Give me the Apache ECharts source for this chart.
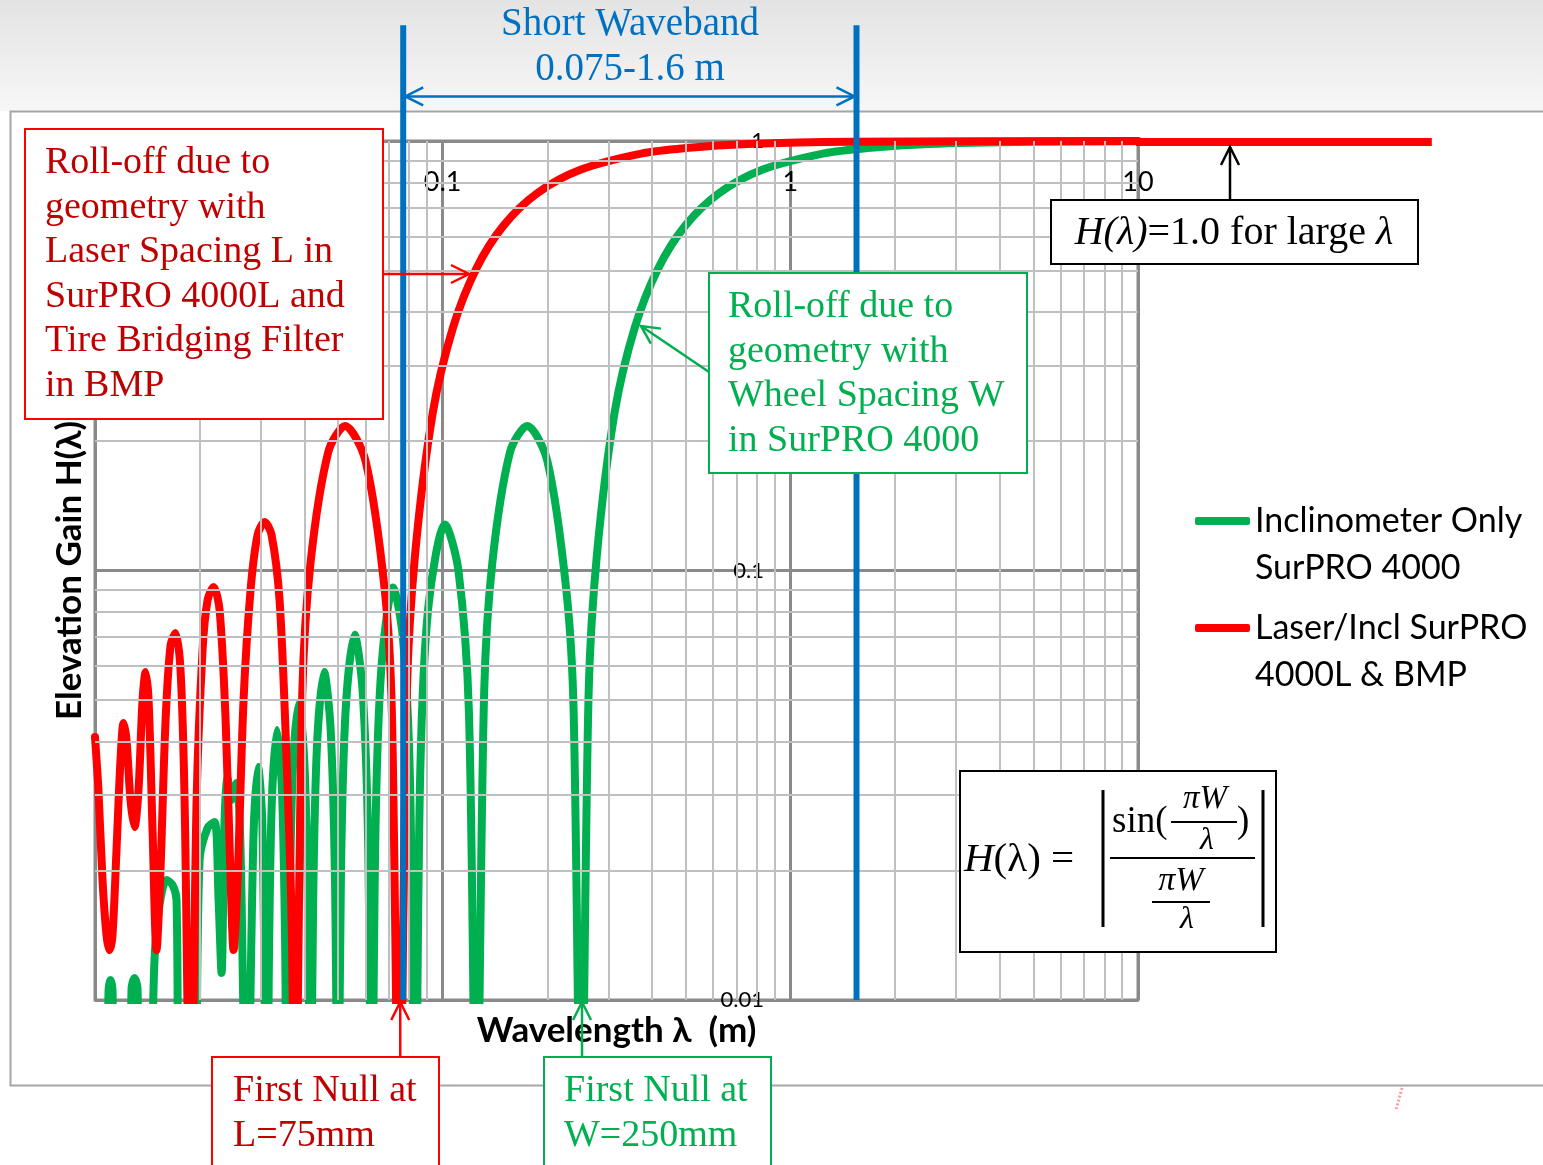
<!DOCTYPE html>
<html>
<head>
<meta charset="utf-8">
<script src="https://cdn.jsdelivr.net/npm/echarts@6.0.0/dist/echarts.min.js"></script>
<style>
  html, body { margin: 0; padding: 0; background: #fff; }
  #chart { width: 1543px; height: 1165px; }
</style>
</head>
<body>
<div id="chart"></div>
<script>
// wavelength (m) / elevation gain (wheel spacing W)
const greenWavelength = [
  0.0100, 0.01072, 0.01094, 0.01108, 0.01123, 0.01145,
  0.01248, 0.01274, 0.01299, 0.01325, 0.01352,
  0.01416, 0.01483, 0.01533, 0.01607, 0.01672, 0.01716, 0.01762,
  0.01908, 0.01999, 0.02107, 0.02208, 0.02267, 0.02312, 0.02359, 0.02406, 0.02471, 0.02554, 0.02622, 0.0273,
  0.02857, 0.02945, 0.0303, 0.03125,
  0.03165, 0.03226, 0.03338, 0.03448, 0.03521, 0.0357,
  0.03623, 0.037, 0.0385, 0.04, 0.041, 0.04167,
  0.0424, 0.0435, 0.0456, 0.0476, 0.049, 0.05,
  0.051, 0.0526, 0.0558, 0.0588, 0.061, 0.0625,
  0.0641, 0.0667, 0.072, 0.0769, 0.0806, 0.0833,
  0.0862, 0.0909, 0.1016, 0.111, 0.119, 0.125,
  0.1316, 0.1389, 0.1563, 0.175, 0.2, 0.227, 0.238, 0.25,
  0.263, 0.2778, 0.3125, 0.357, 0.4167, 0.5, 0.625, 0.833, 1.25, 1.667, 2.5, 5, 10
];
const greenGain = [
  0.004, 0.004, 0.01055, 0.01113, 0.01055, 0.004,
  0.004, 0.01066, 0.01125, 0.01066, 0.004,
  0.004, 0.01239, 0.01664, 0.01903, 0.01852, 0.01709, 0.004,
  0.004, 0.02118, 0.02514, 0.02597, 0.01709, 0.01156, 0.02624, 0.03288, 0.02921, 0.032, 0.02234, 0.004,
  0.02408, 0.03486, 0.02555, 0.004,
  0.01245, 0.029, 0.0425, 0.031, 0.01385, 0.004,
  0.01425, 0.0333, 0.049, 0.036, 0.0161, 0.004,
  0.0167, 0.0391, 0.058, 0.0429, 0.0193, 0.004,
  0.0201, 0.0474, 0.0709, 0.053, 0.024, 0.004,
  0.0252, 0.06, 0.0913, 0.0693, 0.0317, 0.004,
  0.0339, 0.0819, 0.128, 0.1, 0.0468, 0.004,
  0.0518, 0.104, 0.189, 0.217, 0.18, 0.0894, 0.0474, 0.004,
  0.0524, 0.109, 0.234, 0.368, 0.505, 0.637, 0.757, 0.858, 0.936, 0.963, 0.984, 0.996, 0.999
];

// red curve (laser spacing L)
const redWavelength = [
  0.0100, 0.01023, 0.01051, 0.01079, 0.01101, 0.01123, 0.01153, 0.01184, 0.01208, 0.01232,
  0.01265, 0.01299, 0.01334, 0.0137, 0.01398, 0.01426, 0.01464, 0.01503, 0.01543, 0.01596,
  0.0165, 0.01705, 0.01762, 0.0181, 0.01883,
  0.0196, 0.02039, 0.02108, 0.02193, 0.02282, 0.02375, 0.02455, 0.02504, 0.02571, 0.02675,
  0.02802, 0.02935, 0.03074, 0.0322, 0.03395, 0.03557, 0.03677, 0.0376,
  0.03947, 0.04167, 0.0469, 0.0524, 0.06, 0.0682, 0.0714, 0.075,
  0.0789, 0.0833, 0.09375, 0.1071, 0.125, 0.15, 0.1875, 0.25, 0.375, 0.5, 0.75, 1.5, 10
];
const redGain = [
  0.04095, 0.03083, 0.01903, 0.01417, 0.01307, 0.01417, 0.02234, 0.03621, 0.04415, 0.0403,
  0.02921, 0.02528, 0.03083, 0.04994, 0.05802, 0.04994, 0.02488, 0.01307, 0.02008, 0.04486,
  0.06707, 0.07153, 0.05865, 0.02921, 0.004,
  0.02921, 0.06531, 0.08536, 0.09153, 0.08091, 0.04486, 0.01903, 0.01307, 0.01903, 0.04994,
  0.09007, 0.121, 0.1297, 0.121, 0.08536, 0.03621, 0.01536, 0.004,
  0.0518, 0.104, 0.189, 0.217, 0.18, 0.0894, 0.0474, 0.004,
  0.0524, 0.109, 0.234, 0.368, 0.505, 0.637, 0.757, 0.858, 0.936, 0.963, 0.984, 0.996, 1.0
];

// red line carried on past the plot to the "H=1.0" note
const redTailWavelength = [10, 70];
const redTailGain = [1, 1];

// short waveband limits (blue lines), drawn from the axis bottom up into the title
const bandEdges = [0.077, 1.55];
const bandLineGain = [0.01, 1.86];
const bandArrowGain = 1.27;

// first nulls, L = 75 mm and W = 250 mm
const firstNulls = [0.075, 0.25];

// minor grid lines
const minorWavelength = [0.02, 0.03, 0.04, 0.05, 0.06, 0.07, 0.08, 0.09,
  0.2, 0.3, 0.4, 0.5, 0.6, 0.7, 0.8, 0.9, 2, 3, 4, 5, 6, 7, 8, 9];
const minorGain = [0.02, 0.03, 0.04, 0.05, 0.06, 0.07, 0.08, 0.09,
  0.2, 0.3, 0.4, 0.5, 0.6, 0.7, 0.8, 0.9];

const greenName = "Inclinometer Only\nSurPRO 4000";
const redName = "Laser/Incl SurPRO\n4000L & BMP";

const GREEN = "#00B050";
const RED = "#FF0000";
const DARK_RED = "#C00000";
const BLUE = "#0070C0";
const SANS = "Lato, 'Open Sans', sans-serif";
const SERIF = "'Liberation Serif', 'DejaVu Serif', serif";

const pairs = (xs, ys) => xs.map((x, i) => [x, ys[i]]);

const chart = echarts.init(document.getElementById("chart"));

const logX = {
  type: "log", logBase: 10, min: 0.01, max: 10,
  axisTick: { show: false }, axisLine: { show: false },
};
const logY = {
  type: "log", logBase: 10, min: 0.01, max: 1,
  axisTick: { show: false }, axisLine: { show: false },
};

const curve = (name, xs, ys, color, z) => ({
  name, type: "line", data: pairs(xs, ys),
  symbol: "none", showSymbol: false, smooth: 0.3,
  lineStyle: { color, width: 8, cap: "round", join: "round" },
  itemStyle: { color }, z,
});

const option = {
  animation: false,
  backgroundColor: "#fff",
  grid: {
    left: 95, top: 141, width: 1043, height: 859,
    show: true, borderColor: "#8a8a8a", borderWidth: 3, backgroundColor: "transparent",
  },
  legend: {
    data: [greenName, redName],
    orient: "vertical",
    left: 1195, top: 450.5,
    padding: 0,
    icon: "roundRect",
    itemWidth: 55, itemHeight: 8, itemGap: -34,
    selectedMode: false,
    formatter: name => "\n" + name,
    textStyle: { fontFamily: SANS, fontSize: 34, color: "#000", lineHeight: 47 },
  },
  xAxis: [
    {
      ...logX,
      position: "top",
      splitLine: { show: true, lineStyle: { color: "#8a8a8a", width: 3 } },
      axisLabel: {
        inside: true, margin: 41, verticalAlign: "middle",
        showMinLabel: false, fontFamily: SANS, fontSize: 27, color: "#000",
      },
    },
    {
      ...logX,
      position: "bottom",
      splitLine: { show: false },
      axisLabel: { show: false },
      name: "Wavelength \u03bb  (m)",
      nameLocation: "middle",
      nameGap: 13,
      nameTextStyle: { fontFamily: SANS, fontWeight: "bold", fontSize: 35, color: "#000" },
    },
  ],
  yAxis: [
    {
      ...logY,
      position: "left",
      offset: -677,
      splitLine: { show: true, lineStyle: { color: "#8a8a8a", width: 3 } },
      axisLabel: { margin: 8, fontFamily: SANS, fontSize: 22, color: "#000" },
    },
    {
      ...logY,
      position: "left",
      splitLine: { show: false },
      axisLabel: { show: false },
      name: "Elevation Gain H(\u03bb)",
      nameLocation: "middle",
      nameGap: 8,
      nameRotate: 90,
      nameTextStyle: { fontFamily: SANS, fontWeight: "bold", fontSize: 35, color: "#000" },
    },
  ],
  series: [
    {
      type: "line", data: [], silent: true, z: 1,
      markLine: {
        silent: true, symbol: ["none", "none"], label: { show: false },
        lineStyle: { color: "#c0c0c0", width: 2, type: "solid" },
        emphasis: { disabled: true },
        data: [
          ...minorWavelength.map(v => ({ xAxis: v })),
          ...minorGain.map(v => ({ yAxis: v })),
        ],
      },
    },
    curve(greenName, greenWavelength, greenGain, GREEN, 3),
    curve(redName, redWavelength, redGain, RED, 4),
    ...bandEdges.map(x => ({
      type: "line", data: bandLineGain.map(y => [x, y]), clip: false,
      symbol: "none", lineStyle: { color: BLUE, width: 6 }, z: 5,
    })),
  ],
};

chart.setOption(option);

const toPx = (x, y) => chart.convertToPixel({ seriesIndex: 1 }, [x, y]);

function arrowHead(tx, ty, dx, dy, color, len = 18, half = 9) {
  const n = Math.hypot(dx, dy), ux = dx / n, uy = dy / n;
  return {
    type: "polyline", z: 120,
    shape: { points: [
      [tx - ux * len - uy * half, ty - uy * len + ux * half],
      [tx, ty],
      [tx - ux * len + uy * half, ty - uy * len - ux * half],
    ] },
    style: { stroke: color, lineWidth: 2.5, fill: "none" },
  };
}
const seg = (x1, y1, x2, y2, color, w = 2.5, z = 120) => ({
  type: "line", z, shape: { x1, y1, x2, y2 }, style: { stroke: color, lineWidth: w },
});
const box = (x, y, width, height, stroke) => ({
  type: "rect", z: 100, shape: { x, y, width, height },
  style: { fill: "#fff", stroke, lineWidth: 2 },
});
const txt = (x, y, text, extra) => ({
  type: "text", z: 110, x, y,
  style: Object.assign({ text, fontFamily: SERIF, fontSize: 38, fill: "#000" }, extra),
});

const bandL = toPx(bandEdges[0], bandArrowGain);
const bandR = toPx(bandEdges[1], bandArrowGain);
const bottomY = toPx(1, 0.01)[1];
const nullL = toPx(firstNulls[0], 0.01)[0];
const nullW = toPx(firstNulls[1], 0.01)[0];
const tail0 = toPx(redTailWavelength[0], redTailGain[0]);
const tail1 = toPx(redTailWavelength[1], redTailGain[1]);

const g = [
  // slide header band and content panel
  { type: "rect", z: -10, shape: { x: 0, y: 0, width: 1543, height: 111 },
    style: { fill: new echarts.graphic.LinearGradient(0, 0, 0, 1, [
      { offset: 0, color: "#e3e3e3" }, { offset: 1, color: "#f7f7f7" }]) } },
  { type: "rect", z: -9, shape: { x: 10.5, y: 111.5, width: 1560, height: 974 },
    style: { fill: "#fff", stroke: "#a6a6a6", lineWidth: 2 } },

  // red curve continued to the right of the plot
  { type: "line", z: 6, shape: { x1: tail0[0] - 2, y1: tail0[1] + 1, x2: tail1[0], y2: tail1[1] + 1 },
    style: { stroke: RED, lineWidth: 8 } },

  // short waveband title + double arrow
  txt(630, 47, "Short Waveband\n0.075-1.6 m", { fill: BLUE, fontSize: 39, lineHeight: 45, align: "center", verticalAlign: "middle" }),
  seg(bandL[0] + 2, bandL[1], bandR[0] - 2, bandR[1], BLUE),
  arrowHead(bandL[0] + 2, bandL[1], -1, 0, BLUE),
  arrowHead(bandR[0] - 2, bandR[1], 1, 0, BLUE),

  // red roll-off note
  box(25, 129, 358, 290, RED),
  txt(45, 140.7, "Roll-off due to\ngeometry with\nLaser Spacing L in\nSurPRO 4000L and\nTire Bridging Filter\nin BMP",
    { fill: DARK_RED, lineHeight: 44.6, verticalAlign: "top" }),
  seg(383, 274, 469, 274, RED),
  arrowHead(469, 274, 1, 0, RED),

  // green roll-off note
  box(709, 273, 318, 200, GREEN),
  txt(728, 284.7, "Roll-off due to\ngeometry with\nWheel Spacing W\nin SurPRO 4000",
    { fill: GREEN, lineHeight: 44.7, verticalAlign: "top" }),
  seg(709, 372, 641, 326, GREEN),
  arrowHead(641, 326, -68, -46, GREEN),

  // H = 1.0 note
  box(1051, 200, 367, 64, "#000"),
  txt(1234, 233, "{i|H(\u03bb)}=1.0 for large {i|\u03bb}", {
    align: "center", verticalAlign: "middle", fontSize: 40,
    rich: { i: { fontStyle: "italic", fontSize: 40, fontFamily: SERIF } },
  }),
  seg(1230, 200, 1230, 147, "#000"),
  arrowHead(1230, 147, 0, -1, "#000"),

  // formula
  box(960, 771, 316, 181, "#000"),
  txt(964, 860, "{i|H}(\u03bb) = ", {
    verticalAlign: "middle", fontSize: 41,
    rich: { i: { fontStyle: "italic", fontSize: 41, fontFamily: SERIF } },
  }),
  seg(1103, 790, 1103, 927, "#000", 3),
  seg(1263, 790, 1263, 927, "#000", 3),
  txt(1112, 822, "sin(", { verticalAlign: "middle", fontSize: 37 }),
  txt(1205, 799, "\u03c0W", { align: "center", verticalAlign: "middle", fontSize: 33, fontStyle: "italic" }),
  seg(1171, 822, 1237, 822, "#000", 2),
  txt(1207, 841, "\u03bb", { align: "center", verticalAlign: "middle", fontSize: 32, fontStyle: "italic" }),
  txt(1237, 822, ")", { verticalAlign: "middle", fontSize: 37 }),
  seg(1110, 858, 1255, 858, "#000", 2),
  txt(1181, 881, "\u03c0W", { align: "center", verticalAlign: "middle", fontSize: 34, fontStyle: "italic" }),
  seg(1152, 902, 1210, 902, "#000", 2),
  txt(1187, 920, "\u03bb", { align: "center", verticalAlign: "middle", fontSize: 32, fontStyle: "italic" }),

  // first null notes
  box(212, 1057, 227, 140, RED),
  txt(233, 1068.5, "First Null at\nL=75mm", { fill: DARK_RED, lineHeight: 45, verticalAlign: "top" }),
  seg(nullL + 1, 1057, nullL + 1, bottomY + 2, RED),
  arrowHead(nullL + 1, bottomY + 2, 0, -1, RED),
  box(544, 1057, 227, 140, GREEN),
  txt(564, 1068.5, "First Null at\nW=250mm", { fill: GREEN, lineHeight: 45, verticalAlign: "top" }),
  seg(nullW + 1, 1057, nullW + 1, bottomY + 2, GREEN),
  arrowHead(nullW + 1, bottomY + 2, 0, -1, GREEN),

  // stray pen mark
  { type: "line", z: 5, shape: { x1: 1402, y1: 1088, x2: 1396, y2: 1110 },
    style: { stroke: "#ff9c9c", lineWidth: 3, lineDash: [2, 2] } },
];

chart.setOption({ graphic: { elements: g } });

window.addEventListener("resize", () => chart.resize());
</script>
</body>
</html>
